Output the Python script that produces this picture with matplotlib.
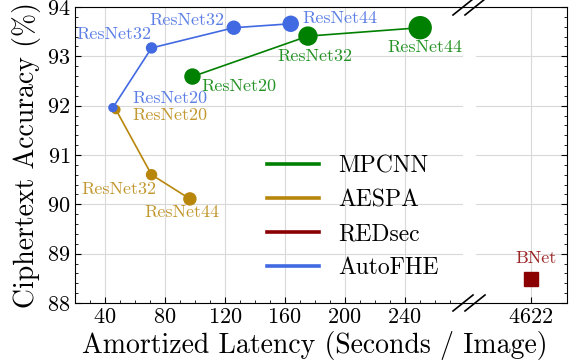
import matplotlib
matplotlib.use("Agg")
import matplotlib.pyplot as plt
from matplotlib.lines import Line2D
from matplotlib.ticker import MultipleLocator

plt.rcParams['font.family'] = 'serif'
plt.rcParams['font.serif'] = ['cmr10']
plt.rcParams['mathtext.fontset'] = 'cm'
plt.rcParams['axes.formatter.use_mathtext'] = True

# data
mpcnn_x = [98.4, 175.5, 250.4]
mpcnn_y = [92.59, 93.41, 93.58]
mpcnn_lbl = ['ResNet20', 'ResNet32', 'ResNet44']

aespa_x = [47.3, 71.1, 96.7]
aespa_y = [91.92, 90.60, 90.11]
aespa_lbl = ['ResNet20', 'ResNet32', 'ResNet44']

autofhe_x = [45.3, 71.1, 126.0, 164.0]
autofhe_y = [91.96, 93.17, 93.58, 93.66]
autofhe_lbl = ['ResNet20', 'ResNet32', 'ResNet32', 'ResNet44']

redsec_x = [4622]
redsec_y = [88.49]
redsec_lbl = ['BNet']

c_mpcnn = 'green'
c_aespa = 'darkgoldenrod'
c_red = 'darkred'
c_auto = 'royalblue'

W, H = 571, 364
fig = plt.figure(figsize=(W / 100, H / 100), dpi=100)
ax = fig.add_axes([75 / W, 1 - 303 / H, (463 - 75) / W, (303 - 7) / H])
ax2 = fig.add_axes([476 / W, 1 - 303 / H, (567 - 476) / W, (303 - 7) / H], sharey=ax)

for a in (ax, ax2):
    a.grid(True, color='#d9d9d9', lw=0.8)
    a.set_axisbelow(True)
    a.tick_params(which='both', direction='in', labelsize=16)
    a.tick_params(which='major', length=4)
    a.tick_params(which='minor', length=2)

ax.spines['right'].set_visible(False)
ax2.spines['left'].set_visible(False)
ax.set_xlim(20, 279)
ax.set_ylim(88, 94)
ax.set_xticks([40, 80, 120, 160, 200, 240])
ax.xaxis.set_minor_locator(MultipleLocator(10))
ax.yaxis.set_major_locator(MultipleLocator(1))
ax.yaxis.set_minor_locator(MultipleLocator(0.2))
ax.tick_params(axis='y', right=False)

ax2.set_xlim(4580, 4650)
ax2.set_xticks([4622])
ax2.yaxis.tick_right()
ax2.tick_params(axis='y', which='both', labelright=False, left=False)

# series lines
ax.plot(aespa_x, aespa_y, color=c_aespa, lw=1.2, zorder=2)
ax.scatter(aespa_x, aespa_y, s=[33, 52, 75], color=c_aespa, zorder=3)
ax.plot(mpcnn_x, mpcnn_y, color=c_mpcnn, lw=1.2, zorder=2)
ax.scatter(mpcnn_x, mpcnn_y, s=[117, 168, 251], color=c_mpcnn, zorder=3)
ax.plot(autofhe_x, autofhe_y, color=c_auto, lw=1.2, zorder=4)
ax.scatter(autofhe_x, autofhe_y, s=[33, 52, 88, 117], color=c_auto, zorder=5)
ax2.plot(redsec_x, redsec_y, 's', color=c_red, ms=10.5, zorder=3)

# labels
def put(a, x, y, t, c, dx, dy, ha):
    a.annotate(t, (x, y), xytext=(dx, dy), textcoords='offset points',
               ha=ha, va='center', color=c, alpha=0.85, fontsize=13)

auto_off = [(13.7, 6.5, 'left'), (0, 10, 'right'), (-7, 5, 'right'), (8.6, 3.6, 'left')]
for x, y, t, o in zip(autofhe_x, autofhe_y, autofhe_lbl, auto_off):
    put(ax, x, y, t, c_auto, *o)
mp_off = [(6.5, -7.2, 'left'), (5, -14.4, 'center'), (3.6, -14.4, 'center')]
for x, y, t, o in zip(mpcnn_x, mpcnn_y, mpcnn_lbl, mp_off):
    put(ax, x, y, t, c_mpcnn, *o)
ae_off = [(11.5, -4.3, 'left'), (3.6, -10.8, 'right'), (-5.8, -10, 'center')]
for x, y, t, o in zip(aespa_x, aespa_y, aespa_lbl, ae_off):
    put(ax, x, y, t, c_aespa, *o)
put(ax2, redsec_x[0], redsec_y[0], redsec_lbl[0], c_red, 3.6, 15, 'center')

# legend
handles = [Line2D([], [], color=c, lw=2.6) for c in (c_mpcnn, c_aespa, c_red, c_auto)]
ax.legend(handles, ['MPCNN', 'AESPA', 'REDsec', 'AutoFHE'], frameon=False,
          fontsize=17, handlelength=2.2, loc='center left',
          bbox_to_anchor=(246 / W, 1 - 217 / H), bbox_transform=fig.transFigure)

ax.set_ylabel('Ciphertext Accuracy (%)', fontsize=20)
fig.text(315 / W, 1 - 345 / H, 'Amortized Latency (Seconds / Image)',
         fontsize=20, ha='center', va='center')

# spine bridge over the gap + break marks
for yc in (7, 303):
    fig.add_artist(Line2D([463 / W, 476 / W], [1 - yc / H, 1 - yc / H],
                          color='black', lw=0.8))
    for xc in (463, 475):
        fig.add_artist(Line2D([(xc - 10) / W, (xc + 10) / W],
                              [1 - (yc + 8) / H, 1 - (yc - 8) / H],
                              color='black', lw=1.2))

fig.savefig('out.png', dpi=100)
